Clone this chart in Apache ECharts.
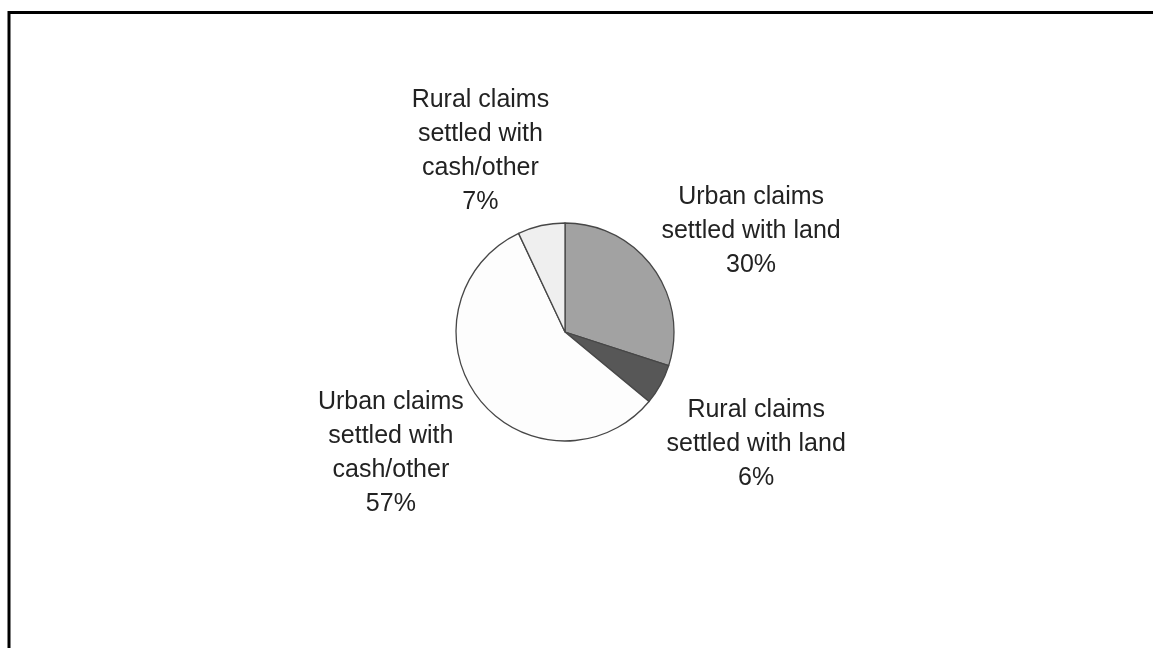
<!DOCTYPE html>
<html>
<head>
<meta charset="utf-8">
<style>
  html, body { margin: 0; padding: 0; background: #ffffff; }
  #chart { width: 1153px; height: 648px; }
</style>
<script src="https://cdn.jsdelivr.net/npm/echarts@6/dist/echarts.min.js"></script>
</head>
<body>
<div id="chart"></div>
<script>
// Share of settled claims by area and settlement type (percent)
const categories = [
  'Urban claims\nsettled with land',
  'Rural claims\nsettled with land',
  'Urban claims\nsettled with\ncash/other',
  'Rural claims\nsettled with\ncash/other'
];
const shares = [30, 6, 57, 7];
const sliceColors = ['#a2a2a2', '#575757', '#fdfdfd', '#efefef'];
// nudges applied to each slice label after the pie places it
const labelNudge = [[17, 22], [8, 11], [-9, -7], [-39, 23]];

const chart = echarts.init(document.getElementById('chart'), null, { renderer: 'canvas' });

chart.setOption({
  backgroundColor: '#ffffff',
  animation: false,
  graphic: [{
    type: 'rect',
    shape: { x: 9, y: 12.5, width: 1200, height: 700 },
    style: { fill: 'none', stroke: '#000000', lineWidth: 3 },
    silent: true
  }],
  series: [{
    type: 'pie',
    center: [565, 332],
    radius: 109,
    startAngle: 90,
    clockwise: true,
    avoidLabelOverlap: false,
    itemStyle: { borderColor: '#474747', borderWidth: 1.3 },
    label: {
      show: true,
      position: 'outside',
      formatter: p => p.name + '\n' + p.value + '%',
      fontFamily: 'Liberation Sans, Arial, sans-serif',
      fontSize: 25,
      lineHeight: 34,
      color: '#222222',
      distanceToLabelLine: 0
    },
    labelLine: { show: false, length: 100, length2: 0 },
    labelLayout: p => ({
      align: 'center',
      verticalAlign: 'middle',
      dx: labelNudge[p.dataIndex][0],
      dy: labelNudge[p.dataIndex][1]
    }),
    data: categories.map((name, i) => ({
      name: name,
      value: shares[i],
      itemStyle: { color: sliceColors[i] }
    }))
  }]
});
</script>
</body>
</html>
